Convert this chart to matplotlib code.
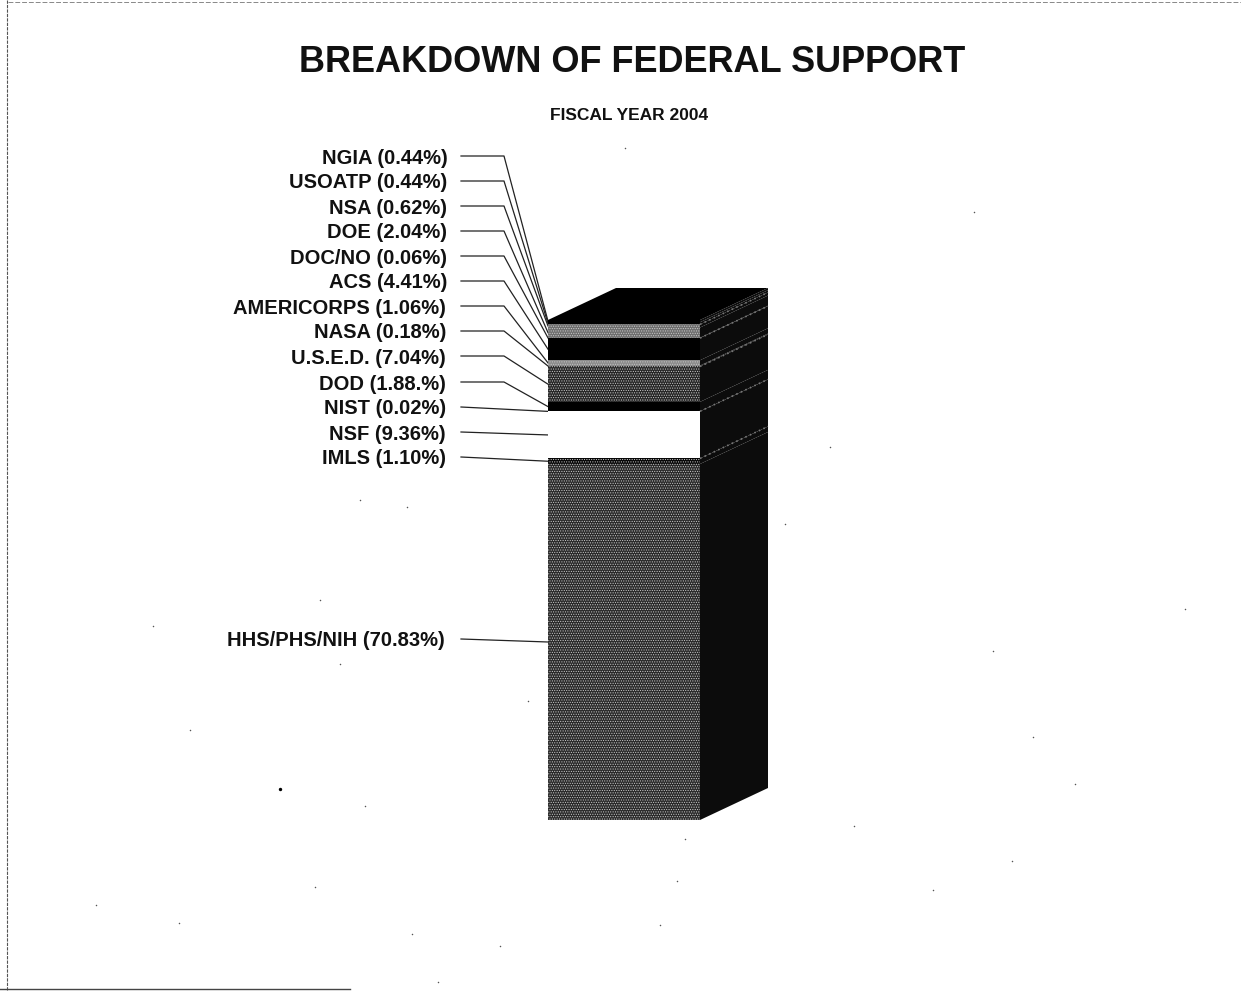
import matplotlib
matplotlib.use('Agg')
import matplotlib.pyplot as plt
from matplotlib.patches import Polygon

plt.rcParams['font.family'] = ['Liberation Sans', 'DejaVu Sans']
plt.rcParams['hatch.linewidth'] = 0.5

W, H = 1241, 991

# bottom to top, as stacked in the column
agencies = ['HHS/PHS/NIH', 'IMLS', 'NSF', 'NIST', 'DOD', 'U.S.E.D.', 'NASA',
            'AMERICORPS', 'ACS', 'DOC/NO', 'DOE', 'NSA', 'USOATP', 'NGIA']
shares = [70.83, 1.10, 9.36, 0.02, 1.88, 7.04, 0.18,
          1.06, 4.41, 0.06, 2.04, 0.62, 0.44, 0.44]
share_text = ['70.83%', '1.10%', '9.36%', '0.02%', '1.88.%', '7.04%', '0.18%',
              '1.06%', '4.41%', '0.06%', '2.04%', '0.62%', '0.44%', '0.44%']
front_colors = ['#2a2a2a', '#050505', '#ffffff', '#000000', '#000000', '#262626', '#808080',
                '#8a8a8a', '#000000', '#000000', '#6e6e6e', '#6e6e6e', '#000000', '#000000']
label_y = [641, 459, 434, 409, 384, 358, 333, 308, 283, 258, 233, 208, 183, 158]
label_right = [445, 446, 446, 446, 446, 446, 446, 446, 447, 447, 447, 447, 447, 448]
scan_specks = [(625, 148), (974, 212), (993, 651), (1185, 609), (1033, 737), (1075, 784),
               (1012, 861), (933, 890), (854, 826), (785, 524), (830, 447), (685, 839),
               (677, 881), (500, 946), (412, 934), (315, 887), (96, 905), (179, 923),
               (365, 806), (528, 701), (320, 600), (360, 500), (407, 507), (153, 626),
               (438, 982), (660, 925), (340, 664), (190, 730)]

fig = plt.figure(figsize=(W / 100, H / 100), dpi=100)

page = fig.add_axes([0, 0, 1, 1])
page.set_xlim(0, W)
page.set_ylim(H, 0)
page.axis('off')

# front of column
stack_left, stack_right, stack_top, stack_bottom = 548, 700, 320, 820
ax = fig.add_axes([stack_left / W, 1 - stack_bottom / H,
                   (stack_right - stack_left) / W, (stack_bottom - stack_top) / H])
total = sum(shares)
ax.set_xlim(0, 1)
ax.set_ylim(0, total)
ax.axis('off')

depth_x = 68 / (stack_right - stack_left)
depth_y = 32 * total / (stack_bottom - stack_top)

bottoms = []
running = 0
for s in shares:
    bottoms.append(running)
    running += s

for name, s, b, c in zip(agencies, shares, bottoms, front_colors):
    speckled = c not in ('#000000', '#ffffff')
    ax.bar(0.5, s, width=1, bottom=b, color=c, linewidth=0,
           edgecolor='#c8c8c8' if speckled else c,
           hatch='.......' if speckled else None)
    # side face
    side = Polygon([(1, b), (1 + depth_x, b + depth_y), (1 + depth_x, b + s + depth_y), (1, b + s)],
                   closed=True, facecolor='#0c0c0c', edgecolor='none', clip_on=False)
    ax.add_patch(side)

# light seams on side face between the bigger blocks
for i in (1, 3, 5, 8, 11):
    ax.plot([1, 1 + depth_x], [bottoms[i] + shares[i], bottoms[i] + shares[i] + depth_y],
            color='#777777', lw=1.2, ls=(0, (1, 2)), clip_on=False)

ax.add_patch(Polygon([(0, total), (depth_x, total + depth_y), (1 + depth_x, total + depth_y), (1, total)],
                     closed=True, facecolor='black', edgecolor='none', clip_on=False))

# labels and leaders
for name, txt, s, b, ly, lr in zip(agencies, share_text, shares, bottoms, label_y, label_right):
    page.text(lr, ly, f'{name} ({txt})', ha='right', va='center', fontsize=14.5,
              fontweight='bold', color='#111111')
    _, ty = page.transData.inverted().transform(ax.transData.transform((0, b + s / 2)))
    ly2 = ly - 2
    if ly2 < ty - 6 or ly2 > ty + 6:
        page.plot([461, 504, stack_left], [ly2, ly2, ty], color='#222222', lw=0.9, zorder=5)
    else:
        page.plot([461, stack_left], [ly2, ty], color='#222222', lw=0.9, zorder=5)

page.text(632, 63, 'BREAKDOWN OF FEDERAL SUPPORT', ha='center', va='center',
          fontsize=26, fontweight='bold', color='#111111')
page.text(629, 116, 'FISCAL YEAR 2004', ha='center', va='center',
          fontsize=12.5, fontweight='bold', color='#111111')

# scan edges
page.plot([7, 7], [0, 991], color='#555555', lw=0.8, ls=(0, (3, 1)))
page.plot([8, 1241], [2, 2], color='#888888', lw=0.7, ls=(0, (5, 2)))
page.plot([0, 350], [989, 989], color='#444444', lw=1.0)
page.scatter([p[0] for p in scan_specks], [p[1] for p in scan_specks], s=1.2, color='#555555', linewidths=0)
page.scatter([280], [789], s=6, color='black', linewidths=0)

fig.savefig('out.png', dpi=100)
